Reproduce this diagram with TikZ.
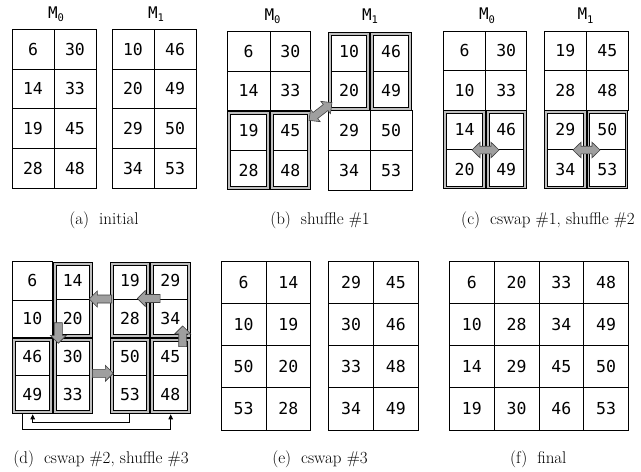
\documentclass[tikz,border=0pt]{standalone}
\usepackage{fontspec}
\newfontfamily\cellfont{DejaVu Sans Mono}
\usetikzlibrary{arrows.meta}
% plain cell: name x0 y0 x1 y1 text
\newcommand\pc[6]{\node[pcell, minimum width={(#4)-(#2)}, minimum height={(#5)-(#3)}] (#1) at ({((#2)+(#4))/2},{((#3)+(#5))/2}) {#6};}
% row of two plain cells: name x0 xm x1 ya yb t1 t2
\newcommand\prow[8]{\pc{#1a}{#2}{#5}{#3}{#6}{#7}\pc{#1b}{#3}{#5}{#4}{#6}{#8}}
% double box over two rows: name x0 y0 x1 y1 top bottom
\newcommand\dbx[7]{%
  \node[dboxo, minimum width={(#4)-(#2)-0.9}, minimum height={(#5)-(#3)-0.9}] (#1) at ({((#2)+(#4))/2},{((#3)+(#5))/2}) {};
  \node[dboxi, minimum width={(#4)-(#2)-6.6}, minimum height={(#5)-(#3)-6.6}] (#1i) at ({((#2)+(#4))/2},{((#3)+(#5))/2}) {};
  \draw[line width=0.85pt] (#1i.west) -- (#1i.east);
  \node[txt] (#1t) at ({((#2)+(#4))/2},{(3*(#3)+(#5))/4}) {#6};
  \node[txt] (#1b) at ({((#2)+(#4))/2},{((#3)+3*(#5))/4}) {#7};}
% block arrow: center x, center y, angle, length
\newcommand\blkarrow[4]{%
  \draw[blk, shift={(#1,#2)}, rotate=#3]
    ({-(#4)/2},-4) -- ({(#4)/2-8},-4) -- ({(#4)/2-8},-8) -- ({(#4)/2},0)
    -- ({(#4)/2-8},8) -- ({(#4)/2-8},4) -- ({-(#4)/2},4) -- cycle;}
\newcommand\dblarrow[4]{%
  \draw[blk, shift={(#1,#2)}, rotate=#3]
    ({-(#4)/2+8},-3.8) -- ({(#4)/2-8},-3.8) -- ({(#4)/2-8},-7.8) -- ({(#4)/2},0)
    -- ({(#4)/2-8},7.8) -- ({(#4)/2-8},3.8) -- ({-(#4)/2+8},3.8) -- ({-(#4)/2+8},7.8)
    -- ({-(#4)/2},0) -- ({-(#4)/2+8},-7.8) -- cycle;}
\newcommand\mlbl[1]{M\raisebox{-3.5pt}{\fontsize{10.5}{10}\selectfont #1}}
\begin{document}
\begin{tikzpicture}[x=1pt,y=-1pt,
  pcell/.style={draw=black, line width=0.85pt, inner sep=0pt, outer sep=0pt, font=\cellfont\fontsize{16.5}{18}\selectfont},
  dboxo/.style={draw=black, line width=0.9pt, fill=gray!50, inner sep=0pt, outer sep=0pt},
  dboxi/.style={draw=black, line width=0.85pt, fill=white, inner sep=0pt, outer sep=0pt},
  txt/.style={inner sep=0pt, font=\cellfont\fontsize{16.5}{18}\selectfont},
  lbl/.style={inner sep=0pt, anchor=base, font=\cellfont\fontsize{16}{18}\selectfont},
  captxt/.style={inner sep=0pt, anchor=base, font=\fontsize{17}{19}\selectfont},
  blk/.style={draw=black!75, line width=0.6pt, fill=gray!75, line join=miter},
  conn/.style={draw=black, line width=0.7pt, -{Triangle[length=5pt,width=4.5pt]}}]
\useasboundingbox (0,0) rectangle (641,472);
\fill[white] (0,0) rectangle (641,472);

% ---------- (a) initial
\node[lbl] (la0) at (56,18.3) {\mlbl{0}};
\node[lbl] (la1) at (156,18.3) {\mlbl{1}};
\prow{a0r1}{12}{54}{96}{29.3}{69}{6}{30}
\prow{a0r2}{12}{54}{96}{69}{108.7}{14}{33}
\prow{a0r3}{12}{54}{96}{108.7}{148.3}{19}{45}
\prow{a0r4}{12}{54}{96}{148.3}{188}{28}{48}
\prow{a1r1}{112}{154}{196}{29.3}{69}{10}{46}
\prow{a1r2}{112}{154}{196}{69}{108.7}{20}{49}
\prow{a1r3}{112}{154}{196}{108.7}{148.3}{29}{50}
\prow{a1r4}{112}{154}{196}{148.3}{188}{34}{53}
\node[captxt] (capa) at (104,224) {(a)\hspace{10pt}initial};

% ---------- (b) shuffle #1
\node[lbl] (lb0) at (272.5,20) {\mlbl{0}};
\node[lbl] (lb1) at (370,20) {\mlbl{1}};
\prow{b0r1}{227.3}{270}{310.7}{31.7}{71}{6}{30}
\prow{b0r2}{227.3}{270}{310.7}{71}{110.7}{14}{33}
\dbx{b0l}{227.3}{110.7}{270}{190}{19}{28}
\dbx{b0r}{270}{110.7}{310.7}{190}{45}{48}
\dbx{b1l}{328}{31.7}{370}{110.7}{10}{20}
\dbx{b1r}{370}{31.7}{412}{110.7}{46}{49}
\prow{b1r3}{328}{370}{412}{110.7}{150.3}{29}{50}
\prow{b1r4}{328}{370}{412}{150.3}{190}{34}{53}
\dblarrow{320.5}{111.5}{37.7}{29}
\node[captxt] (capb) at (320,224) {(b)\hspace{10pt}shuffle \#1};

% ---------- (c) cswap #1, shuffle #2
\node[lbl] (lc0) at (487,19.5) {\mlbl{0}};
\node[lbl] (lc1) at (585.5,19.5) {\mlbl{1}};
\prow{c0r1}{443.3}{485.7}{526.7}{31}{70.6}{6}{30}
\prow{c0r2}{443.3}{485.7}{526.7}{70.6}{110.2}{10}{33}
\dbx{c0l}{443.3}{110.2}{485.7}{189.3}{14}{20}
\dbx{c0r}{485.7}{110.2}{526.7}{189.3}{46}{49}
\prow{c1r1}{544.3}{586.5}{628.3}{31}{70.6}{19}{45}
\prow{c1r2}{544.3}{586.5}{628.3}{70.6}{110.2}{28}{48}
\dbx{c1l}{544.3}{110.2}{586.5}{189.3}{29}{34}
\dbx{c1r}{586.5}{110.2}{628.3}{189.3}{50}{53}
\dblarrow{485.5}{150}{0}{27}
\dblarrow{586.5}{150}{0}{27}
\node[captxt] (capc) at (548,224) {(c)\hspace{10pt}cswap \#1, shuffle \#2};

% ---------- (d) cswap #2, shuffle #3
\pc{d0a}{12}{261.7}{52.7}{300}{6}
\pc{d0b}{12}{300}{52.7}{337.7}{10}
\dbx{d0tr}{52.7}{261.7}{92.7}{337.7}{14}{20}
\dbx{d0bl}{12}{337.7}{52.7}{414}{46}{49}
\dbx{d0br}{52.7}{337.7}{92.7}{414}{30}{33}
\dbx{d1tl}{110}{261.7}{150}{337.7}{19}{28}
\dbx{d1tr}{150}{261.7}{190.7}{337.7}{29}{34}
\dbx{d1bl}{110}{337.7}{150}{414}{50}{53}
\dbx{d1br}{150}{337.7}{190.7}{414}{45}{48}
\blkarrow{100.5}{299}{180}{22.4}
\blkarrow{148.7}{298.5}{180}{22.7}
\blkarrow{58.3}{333}{-90}{20.6}
\blkarrow{182.7}{336.3}{90}{20.7}
\blkarrow{102.8}{373.3}{0}{21}
\coordinate (l1s) at (22.7,414.3);
\coordinate (l1e) at (170.7,414.3);
\coordinate (l2s) at (129.3,414.3);
\coordinate (l2e) at (32.7,414.3);
\draw[conn] (l1s) -- ++(0,15) -| (l1e);
\draw[conn] (l2s) -- ++(0,8.4) -| (l2e);
\node[captxt] (capd) at (101,463) {(d)\hspace{10pt}cswap \#2, shuffle \#3};

% ---------- (e) cswap #3
\prow{e0r1}{221}{266}{310.7}{261}{303.3}{6}{14}
\prow{e0r2}{221}{266}{310.7}{303.3}{345.7}{10}{19}
\prow{e0r3}{221}{266}{310.7}{345.7}{387.7}{50}{20}
\prow{e0r4}{221}{266}{310.7}{387.7}{430}{53}{28}
\prow{e1r1}{328.7}{373.3}{418.3}{261}{303.3}{29}{45}
\prow{e1r2}{328.7}{373.3}{418.3}{303.3}{345.7}{30}{46}
\prow{e1r3}{328.7}{373.3}{418.3}{345.7}{387.7}{33}{48}
\prow{e1r4}{328.7}{373.3}{418.3}{387.7}{430}{34}{49}
\node[captxt] (cape) at (320,463) {(e)\hspace{10pt}cswap \#3};

% ---------- (f) final
\prow{f0r1}{449.3}{494.3}{539}{261}{303.3}{6}{20}
\prow{f0r2}{449.3}{494.3}{539}{303.3}{345.7}{10}{28}
\prow{f0r3}{449.3}{494.3}{539}{345.7}{387.7}{14}{29}
\prow{f0r4}{449.3}{494.3}{539}{387.7}{430}{19}{30}
\prow{f1r1}{539}{583.7}{628.3}{261}{303.3}{33}{48}
\prow{f1r2}{539}{583.7}{628.3}{303.3}{345.7}{34}{49}
\prow{f1r3}{539}{583.7}{628.3}{345.7}{387.7}{45}{50}
\prow{f1r4}{539}{583.7}{628.3}{387.7}{430}{46}{53}
\node[captxt] (capf) at (538.3,463) {(f)\hspace{10pt}final};
\end{tikzpicture}
\end{document}
